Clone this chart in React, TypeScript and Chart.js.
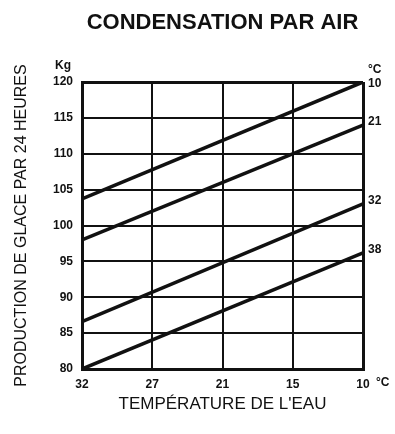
import React, { useEffect, useRef } from "react";
import { Chart, registerables } from "chart.js";

Chart.register(...registerables);

const xTickLabels = ["32", "27", "21", "15", "10"];
const yTicks = [80, 85, 90, 95, 100, 105, 110, 115, 120];
const seriesNames = ["10", "21", "32", "38"];
const seriesStart = [103.7, 98, 86.6, 80];
const seriesEnd = [120, 114, 103, 96.2];

const TITLE = "CONDENSATION PAR AIR";
const Y_TITLE = "PRODUCTION DE GLACE PAR 24 HEURES";
const X_TITLE = "TEMPÉRATURE DE L'EAU";
const FONT = "'Liberation Sans', Arial, Helvetica, sans-serif";

const annotations = {
  id: "annotations",
  afterDraw(chart: any) {
    const ctx = chart.ctx;
    const { chartArea } = chart;
    const y = chart.scales.y;
    const x = chart.scales.x;
    ctx.save();
    ctx.fillStyle = "#111";
    // main title
    ctx.font = `bold 22px ${FONT}`;
    ctx.textAlign = "center";
    ctx.textBaseline = "middle";
    ctx.fillText(TITLE, (chartArea.left + chartArea.right) / 2, 23);
    // units
    ctx.font = `bold 12px ${FONT}`;
    ctx.textAlign = "left";
    ctx.fillText("Kg", 55, 66);
    ctx.fillText("°C", chartArea.right + 5, 70);
    ctx.fillText("°C", x.getPixelForValue(4) + 13, chartArea.bottom + 14);
    // right series labels
    ctx.font = `bold 12px ${FONT}`;
    seriesNames.forEach((n, i) => {
      const py = Math.max(y.getPixelForValue(seriesEnd[i]) - 3, chartArea.top + 2);
      ctx.fillText(n, chartArea.right + 5, py);
    });
    ctx.restore();
  },
};

export default function App() {
  const ref = useRef<HTMLCanvasElement>(null);
  useEffect(() => {
    document.body.style.margin = "0";
    const datasets = seriesNames.map((n, i) => ({
      label: n,
      data: [
        { x: 0, y: seriesStart[i] },
        { x: 4, y: seriesEnd[i] },
      ],
      borderColor: "#111",
      borderWidth: 3.5,
      pointRadius: 0,
      fill: false,
    }));
    const chart = new Chart(ref.current!, {
      type: "line",
      data: { datasets },
      plugins: [annotations],
      options: {
        animation: false,
        responsive: false,
        layout: { padding: { left: 0, top: 82, right: 32, bottom: 0 } },
        plugins: { legend: { display: false }, tooltip: { enabled: false } },
        scales: {
          x: {
            type: "linear",
            min: 0,
            max: 4,
            afterFit: (s: any) => {
              s.height = 65;
            },
            afterBuildTicks: (s: any) => {
              s.ticks = xTickLabels.map((_, i) => ({ value: i }));
            },
            ticks: {
              callback: (v: any) => xTickLabels[v],
              color: "#111",
              font: { family: FONT, size: 12, weight: "bold" },
              padding: 8,
              maxRotation: 0,
            },
            grid: {
              color: "#111",
              lineWidth: (c: any) => (c.tick && (c.tick.value === 0 || c.tick.value === 4) ? 3 : 2),
              drawTicks: false,
            },
            border: { color: "#111", width: 3 },
            title: {
              display: true,
              text: X_TITLE,
              color: "#111",
              font: { family: FONT, size: 17 },
              padding: { top: 0, bottom: 19 },
            },
          },
          y: {
            type: "linear",
            min: 80,
            max: 120,
            afterFit: (s: any) => {
              s.width = 82;
            },
            afterBuildTicks: (s: any) => {
              s.ticks = yTicks.map((v) => ({ value: v }));
            },
            ticks: {
              color: "#111",
              font: { family: FONT, size: 12, weight: "bold" },
              padding: 9,
            },
            grid: {
              color: "#111",
              lineWidth: (c: any) => (c.tick && (c.tick.value === 80 || c.tick.value === 120) ? 3 : 2),
              drawTicks: false,
            },
            border: { color: "#111", width: 3 },
            title: {
              display: true,
              text: Y_TITLE,
              color: "#111",
              font: { family: FONT, size: 16 },
              padding: { top: 12, bottom: 0 },
            },
          },
        },
      },
    } as any);
    return () => chart.destroy();
  }, []);
  return <canvas ref={ref} width={395} height={434} style={{ display: "block" }} />;
}
